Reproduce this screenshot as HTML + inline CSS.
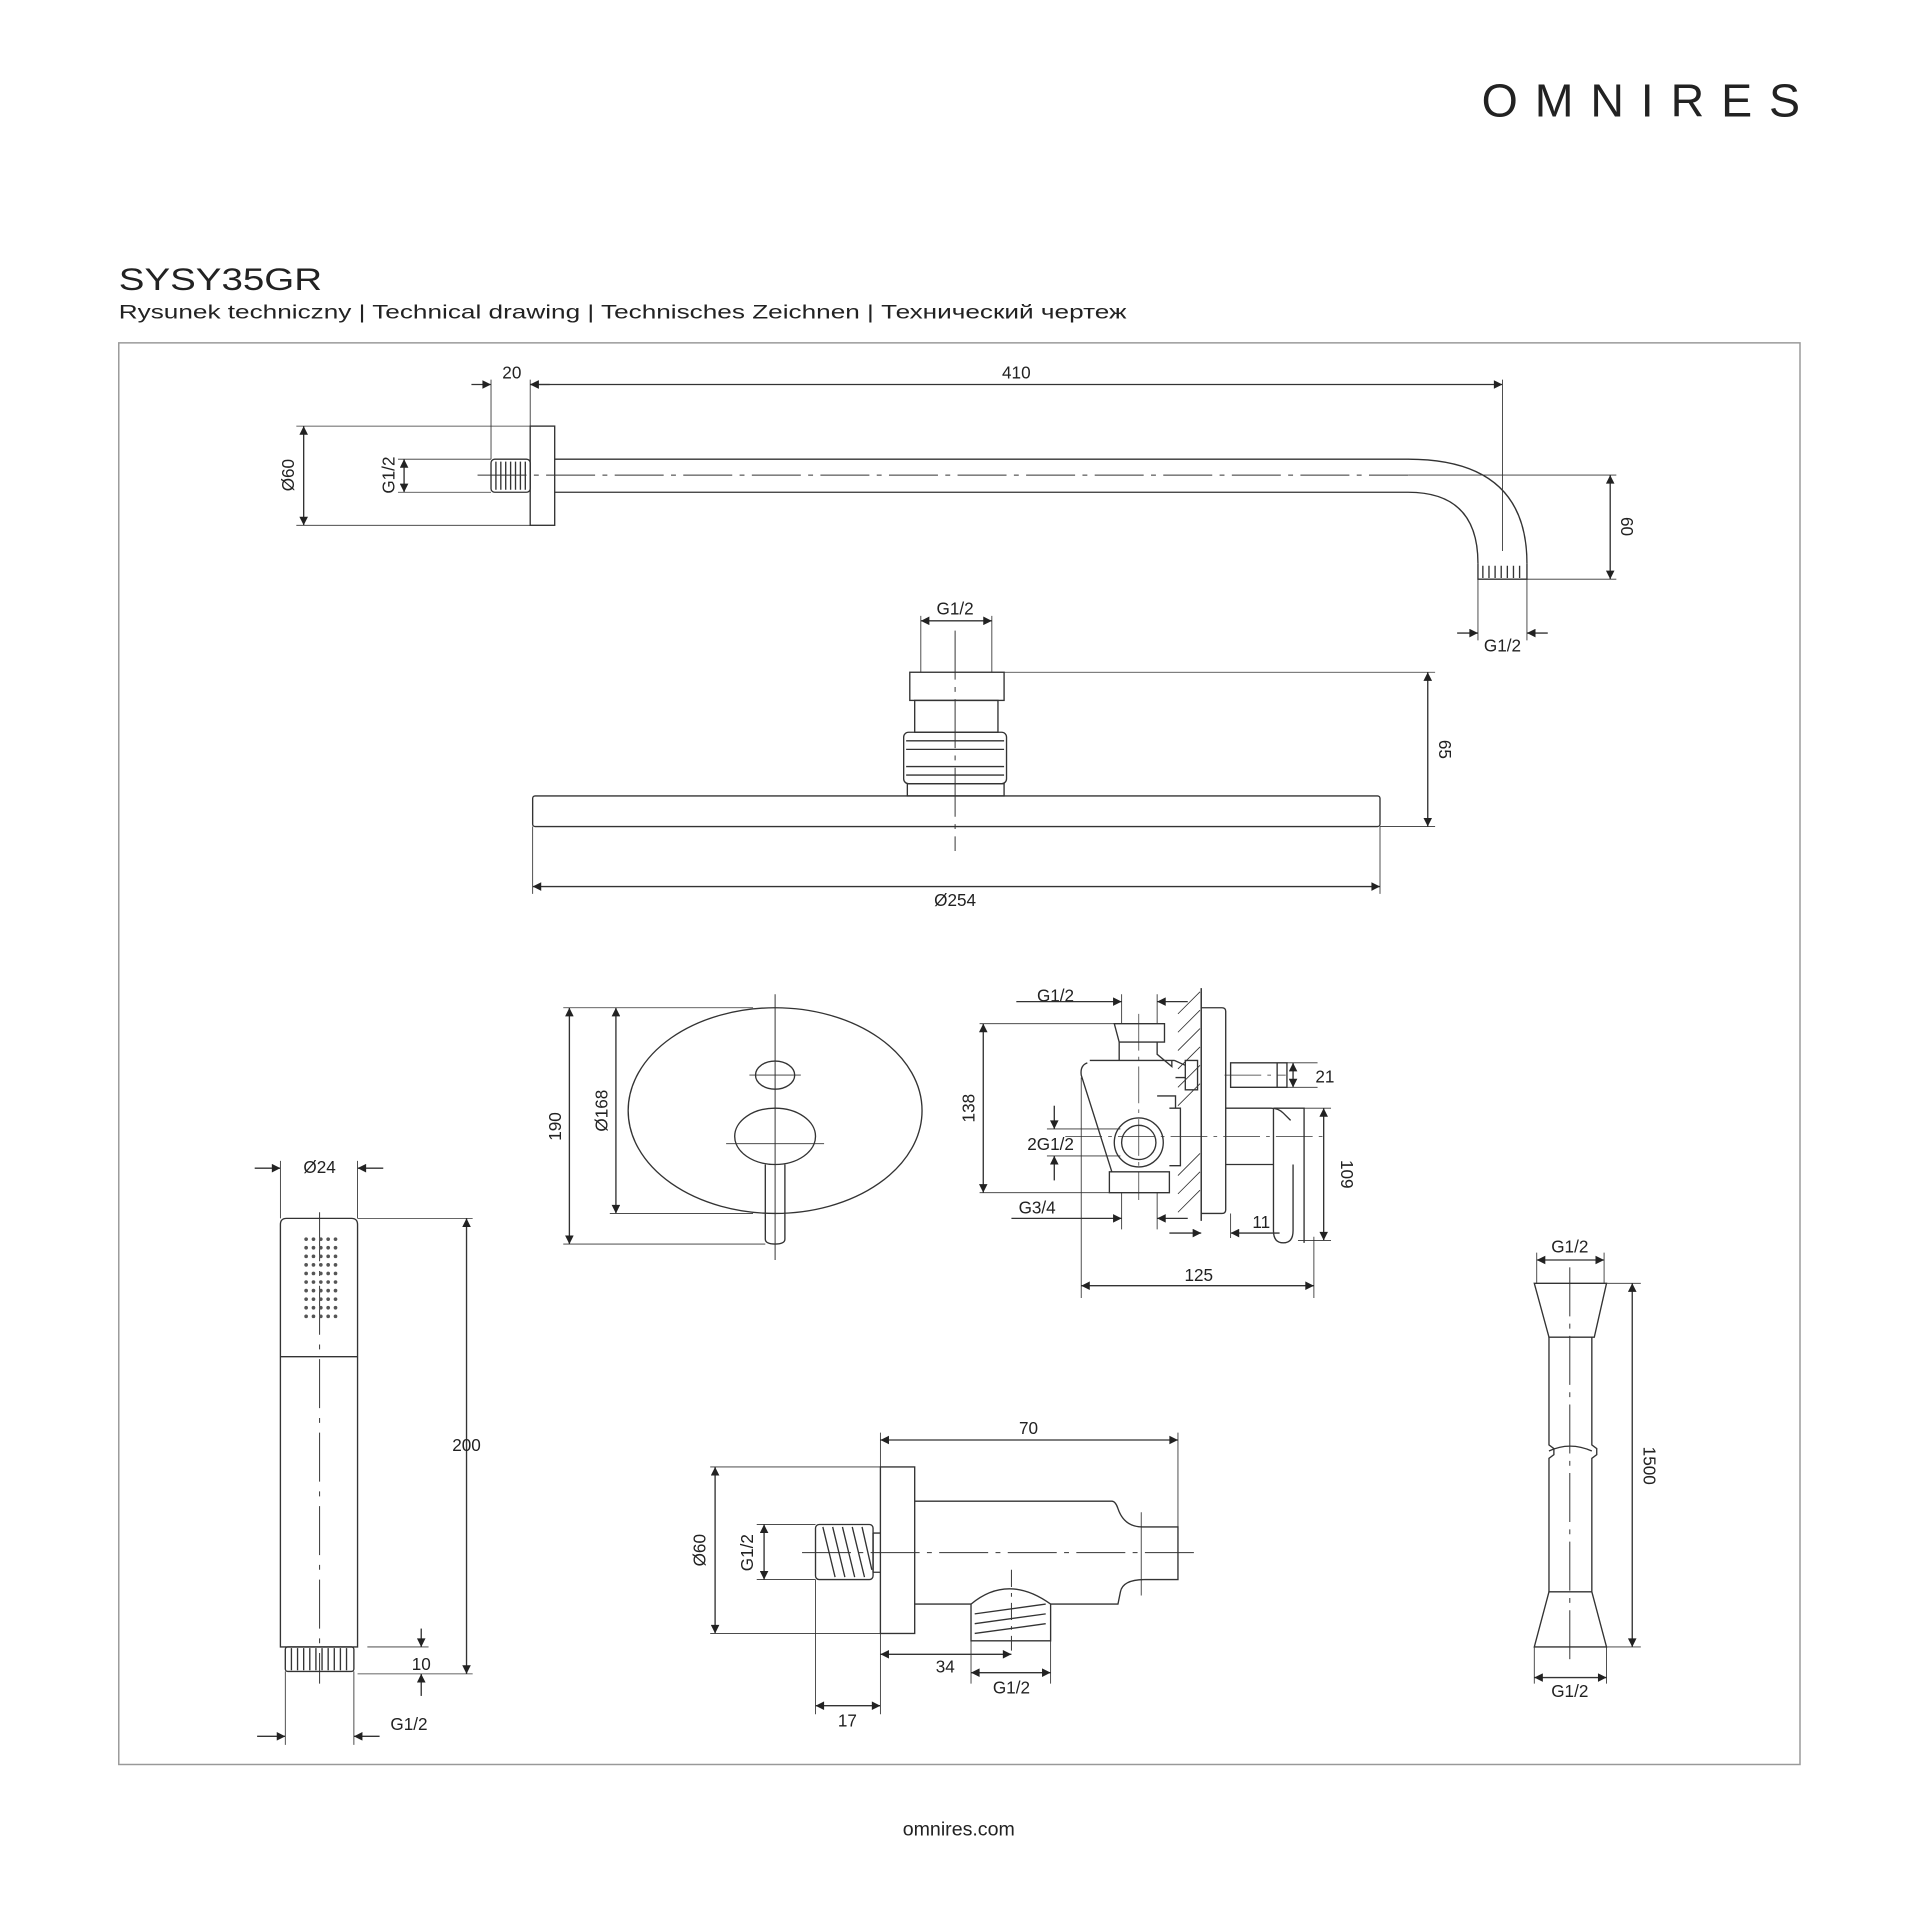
<!DOCTYPE html>
<html><head><meta charset="utf-8"><style>
html,body{margin:0;padding:0;background:#fff}
svg{display:block}
text{font-family:"Liberation Sans","DejaVu Sans",sans-serif;fill:#222}
</style></head><body>
<svg width="1920" height="1920" viewBox="0 0 1568 1568" xmlns="http://www.w3.org/2000/svg">
<defs>
<marker id="a" viewBox="0 0 10 10" refX="10" refY="5" markerWidth="9" markerHeight="7" orient="auto-start-reverse" markerUnits="userSpaceOnUse"><path d="M0,0 L10,5 L0,10 z" fill="#222"/></marker>
</defs>
<text x="1210" y="95" font-size="38" textLength="260" lengthAdjust="spacing">OMNIRES</text>
<text x="97" y="237" font-size="26" textLength="166" lengthAdjust="spacingAndGlyphs">SYSY35GR</text>
<text x="97" y="260" font-size="16" textLength="823" lengthAdjust="spacingAndGlyphs">Rysunek techniczny | Technical drawing | Technisches Zeichnen | Технический чертеж</text>
<rect x="97" y="280" width="1373" height="1161" fill="none" stroke="#999" stroke-width="1.2"/>
<text x="783" y="1499" font-size="16" text-anchor="middle">omnires.com</text>

<g fill="none" stroke="#333" stroke-width="1.1">
<rect x="433" y="348" width="20" height="81"/>
<rect x="401" y="375" width="32" height="27" rx="3"/>
<path d="M405,377v23M409,377v23M413,377v23M417,377v23M421,377v23M425,377v23M429,377v23"/>
<path d="M453,375 H1150 Q1247,375 1247,460 M453,402 H1150 Q1207,402 1207,460"/>
<path d="M1207,460v13h40v-13"/>
<path d="M1211,462v10M1216,462v10M1221,462v10M1226,462v10M1231,462v10M1236,462v10M1241,462v10"/>
<path d="M390,388 H1150" stroke-dasharray="40 6 4 6" stroke-width="0.8"/>
<path d="M401,310v65M433,310v38M1227,310v140" stroke-width="0.7"/>
<line x1="385" y1="314" x2="401" y2="314" marker-end="url(#a)"/>
<line x1="449" y1="314" x2="433" y2="314" marker-end="url(#a)"/>
<line x1="433" y1="314" x2="1227" y2="314" marker-start="url(#a)" marker-end="url(#a)"/>
<path d="M242,348H433M242,429H433M325,375H401M325,402H401" stroke-width="0.7"/>
<line x1="248" y1="348" x2="248" y2="429" marker-start="url(#a)" marker-end="url(#a)"/>
<line x1="330" y1="375" x2="330" y2="402" marker-start="url(#a)" marker-end="url(#a)"/>
<path d="M1150,388H1320M1247,473H1320M1207,473v50M1247,473v50" stroke-width="0.7"/>
<line x1="1315" y1="388" x2="1315" y2="473" marker-start="url(#a)" marker-end="url(#a)"/>
<line x1="1190" y1="517" x2="1207" y2="517" marker-end="url(#a)"/>
<line x1="1264" y1="517" x2="1247" y2="517" marker-end="url(#a)"/>

<rect x="743" y="549" width="77" height="23"/>
<rect x="747" y="572" width="68" height="26"/>
<rect x="738" y="598" width="84" height="42" rx="4"/>
<path d="M740,605H820M740,612H820M740,626H820M740,633H820"/>
<rect x="741" y="640" width="79" height="10"/>
<rect x="435" y="650" width="692" height="25" rx="2"/>
<line x1="780" y1="515" x2="780" y2="695" stroke-dasharray="40 6 4 6" stroke-width="0.8"/>
<path d="M752,503v46M810,503v46M820,549H1172M1127,675H1172M435,675v55M1127,675v55" stroke-width="0.7"/>
<line x1="752" y1="507" x2="810" y2="507" marker-start="url(#a)" marker-end="url(#a)"/>
<line x1="1166" y1="549" x2="1166" y2="675" marker-start="url(#a)" marker-end="url(#a)"/>
<line x1="435" y1="724" x2="1127" y2="724" marker-start="url(#a)" marker-end="url(#a)"/>

<!-- mixer front -->
<ellipse cx="633" cy="907" rx="120" ry="84"/>
<ellipse cx="633" cy="878" rx="16" ry="11.5"/>
<ellipse cx="633" cy="928" rx="33" ry="23"/>
<path d="M625,951V1012q0,4 8,4q8,0 8,-4V951"/>
<line x1="633" y1="812" x2="633" y2="1029" stroke-width="0.8"/>
<path d="M612,878H654M593,934H673" stroke-width="0.7"/>
<path d="M460,823H615M498,991H615M460,1016H625" stroke-width="0.7"/>
<line x1="465" y1="823" x2="465" y2="1016" marker-start="url(#a)" marker-end="url(#a)"/>
<line x1="503" y1="823" x2="503" y2="991" marker-start="url(#a)" marker-end="url(#a)"/>

<!-- mixer side -->
<path d="M981,807V997" stroke-width="1.2"/>
<path d="M962,828l18,-18M962,843l18,-18M962,858l18,-18M962,873l18,-18M962,888l18,-18M962,903l18,-18M962,960l18,-18M962,975l18,-18M962,990l18,-18" stroke-width="0.7"/>
<path d="M981,823h17q3,0 3,3v162q0,3-3,3h-17"/>
<path d="M910,836h41v15h-37zM914,851v15M945,851v10l12,10v-5"/>
<path d="M890,866H959M888,868q-6,2-5,10l25,79M959,866l9,4"/>
<path d="M906,957h49v17h-49z"/>
<path d="M955,905h9v47h-9"/>
<path d="M960,880h8M945,895h15v10"/>
<path d="M968,866h10v24h-10z"/>
<path d="M1005,868h38v20h-38zM1043,868h8v20h-8z"/>
<circle cx="930" cy="933" r="20"/><circle cx="930" cy="933" r="14"/>
<path d="M1001,905H1038q6,0 10,4l6,6M1001,951H1040"/>
<path d="M1040,905h25v110M1040,905v46"/>
<path d="M1040,951V1005q0,10 8,10q8,0 8,-10V951"/>
<path d="M930,828V980M870,928H1085M1000,878H1050" stroke-width="0.6" stroke-dasharray="30 5 3 5"/>
<path d="M916,812v24M945,812v24M800,836H910M800,974H906M855,922H915M855,944H915M916,974v30M945,974v30M883,880V1060M1005,991v20M1073,1010V1060M1051,868h25M1051,888h25M1065,905h22M1060,1013h27" stroke-width="0.7"/>
<line x1="830" y1="818" x2="916" y2="818" marker-end="url(#a)"/>
<line x1="970" y1="818" x2="945" y2="818" marker-end="url(#a)"/>
<line x1="803" y1="836" x2="803" y2="974" marker-start="url(#a)" marker-end="url(#a)"/>
<line x1="861" y1="903" x2="861" y2="922" marker-end="url(#a)"/>
<line x1="861" y1="964" x2="861" y2="944" marker-end="url(#a)"/>
<line x1="1056" y1="868" x2="1056" y2="888" marker-start="url(#a)" marker-end="url(#a)"/>
<line x1="826" y1="995" x2="916" y2="995" marker-end="url(#a)"/>
<line x1="970" y1="995" x2="945" y2="995" marker-end="url(#a)"/>
<line x1="955" y1="1007" x2="981" y2="1007" marker-end="url(#a)"/>
<line x1="1045" y1="1007" x2="1005" y2="1007" marker-end="url(#a)"/>
<line x1="1081" y1="905" x2="1081" y2="1013" marker-start="url(#a)" marker-end="url(#a)"/>
<line x1="883" y1="1050" x2="1073" y2="1050" marker-start="url(#a)" marker-end="url(#a)"/>

<path d="M229,1345V1000q0-5 5-5h53q5,0 5,5V1345z"/>
<path d="M229,1108H292"/>
<rect x="233" y="1345" width="56" height="20" rx="2"/>
<path d="M238,1346v18M243,1346v18M248,1346v18M253,1346v18M258,1346v18M263,1346v18M268,1346v18M273,1346v18M278,1346v18M283,1346v18"/>
<line x1="261" y1="990" x2="261" y2="1375" stroke-dasharray="40 8 4 8" stroke-width="0.8"/>
<path d="M229,948v47M292,948v47M292,995H386M292,1367H386M233,1365v60M289,1365v60M300,1345H350" stroke-width="0.7"/>
<line x1="208" y1="954" x2="229" y2="954" marker-end="url(#a)"/>
<line x1="313" y1="954" x2="292" y2="954" marker-end="url(#a)"/>
<line x1="381" y1="995" x2="381" y2="1367" marker-start="url(#a)" marker-end="url(#a)"/>
<line x1="344" y1="1330" x2="344" y2="1345" marker-end="url(#a)"/>
<line x1="344" y1="1385" x2="344" y2="1367" marker-end="url(#a)"/>
<line x1="210" y1="1418" x2="233" y2="1418" marker-end="url(#a)"/>
<line x1="310" y1="1418" x2="289" y2="1418" marker-end="url(#a)"/>

<rect x="719" y="1198" width="28" height="136"/>
<rect x="666" y="1245" width="47" height="45" rx="3"/>
<path d="M713,1252h6M713,1284h6M713,1252v32"/>
<path d="M672,1247l10,41M680,1247l10,41M688,1247l10,41M696,1247l10,41M704,1247l8,35"/>
<path d="M747,1226H908q3,0 5,6q5,15 20,15H962V1290H935q-18,0-20,10l-2,10H858"/>
<path d="M747,1310H793"/>
<path d="M793,1310q30-25 65,0v30H793z"/>
<path d="M796,1318l58,-8M796,1326l58,-8M796,1334l58,-8"/>
<line x1="655" y1="1268" x2="975" y2="1268" stroke-dasharray="40 6 4 6" stroke-width="0.8"/>
<line x1="826" y1="1282" x2="826" y2="1348" stroke-dasharray="14 5 3 5" stroke-width="0.8"/>
<path d="M932,1235v68M719,1170v28M719,1334v66M962,1170v78M580,1198H719M580,1334H719M618,1245H666M618,1290H666M666,1290v110M793,1340v35M858,1340v35" stroke-width="0.7"/>
<line x1="719" y1="1176" x2="962" y2="1176" marker-start="url(#a)" marker-end="url(#a)"/>
<line x1="584" y1="1198" x2="584" y2="1334" marker-start="url(#a)" marker-end="url(#a)"/>
<line x1="624" y1="1245" x2="624" y2="1290" marker-start="url(#a)" marker-end="url(#a)"/>
<line x1="719" y1="1351" x2="826" y2="1351" marker-start="url(#a)" marker-end="url(#a)"/>
<line x1="793" y1="1366" x2="858" y2="1366" marker-start="url(#a)" marker-end="url(#a)"/>
<line x1="666" y1="1393" x2="719" y2="1393" marker-start="url(#a)" marker-end="url(#a)"/>

<path d="M1253,1048h59l-10,44h-37z"/>
<path d="M1265,1092V1180l4,3v5l-4,3V1300M1300,1092V1180l4,3v5l-4,3V1300"/>
<path d="M1265,1185q17,-8 35,0"/>
<path d="M1265,1300h35l12,45h-59z"/>
<line x1="1282" y1="1035" x2="1282" y2="1360" stroke-dasharray="40 6 4 6" stroke-width="0.8"/>
<path d="M1255,1023v25M1310,1023v25M1312,1048H1340M1312,1345H1340M1253,1345v30M1312,1345v30" stroke-width="0.7"/>
<line x1="1255" y1="1029" x2="1310" y2="1029" marker-start="url(#a)" marker-end="url(#a)"/>
<line x1="1333" y1="1048" x2="1333" y2="1345" marker-start="url(#a)" marker-end="url(#a)"/>
<line x1="1253" y1="1370" x2="1312" y2="1370" marker-start="url(#a)" marker-end="url(#a)"/>
</g>

<g fill="#555">
<circle cx="250" cy="1012" r="1.5"/><circle cx="256" cy="1012" r="1.5"/><circle cx="262" cy="1012" r="1.5"/><circle cx="268" cy="1012" r="1.5"/><circle cx="274" cy="1012" r="1.5"/>
<circle cx="250" cy="1019" r="1.5"/><circle cx="256" cy="1019" r="1.5"/><circle cx="262" cy="1019" r="1.5"/><circle cx="268" cy="1019" r="1.5"/><circle cx="274" cy="1019" r="1.5"/>
<circle cx="250" cy="1026" r="1.5"/><circle cx="256" cy="1026" r="1.5"/><circle cx="262" cy="1026" r="1.5"/><circle cx="268" cy="1026" r="1.5"/><circle cx="274" cy="1026" r="1.5"/>
<circle cx="250" cy="1033" r="1.5"/><circle cx="256" cy="1033" r="1.5"/><circle cx="262" cy="1033" r="1.5"/><circle cx="268" cy="1033" r="1.5"/><circle cx="274" cy="1033" r="1.5"/>
<circle cx="250" cy="1040" r="1.5"/><circle cx="256" cy="1040" r="1.5"/><circle cx="262" cy="1040" r="1.5"/><circle cx="268" cy="1040" r="1.5"/><circle cx="274" cy="1040" r="1.5"/>
<circle cx="250" cy="1047" r="1.5"/><circle cx="256" cy="1047" r="1.5"/><circle cx="262" cy="1047" r="1.5"/><circle cx="268" cy="1047" r="1.5"/><circle cx="274" cy="1047" r="1.5"/>
<circle cx="250" cy="1054" r="1.5"/><circle cx="256" cy="1054" r="1.5"/><circle cx="262" cy="1054" r="1.5"/><circle cx="268" cy="1054" r="1.5"/><circle cx="274" cy="1054" r="1.5"/>
<circle cx="250" cy="1061" r="1.5"/><circle cx="256" cy="1061" r="1.5"/><circle cx="262" cy="1061" r="1.5"/><circle cx="268" cy="1061" r="1.5"/><circle cx="274" cy="1061" r="1.5"/>
<circle cx="250" cy="1068" r="1.5"/><circle cx="256" cy="1068" r="1.5"/><circle cx="262" cy="1068" r="1.5"/><circle cx="268" cy="1068" r="1.5"/><circle cx="274" cy="1068" r="1.5"/>
<circle cx="250" cy="1075" r="1.5"/><circle cx="256" cy="1075" r="1.5"/><circle cx="262" cy="1075" r="1.5"/><circle cx="268" cy="1075" r="1.5"/><circle cx="274" cy="1075" r="1.5"/>
</g>

<g font-size="14">
<text x="418" y="309" text-anchor="middle">20</text>
<text x="830" y="309" text-anchor="middle">410</text>
<text transform="translate(240,388) rotate(-90)" text-anchor="middle">Ø60</text>
<text transform="translate(322,388) rotate(-90)" text-anchor="middle">G1/2</text>
<text transform="translate(1324,430) rotate(90)" text-anchor="middle">60</text>
<text x="1227" y="532" text-anchor="middle">G1/2</text>
<text x="780" y="502" text-anchor="middle">G1/2</text>
<text transform="translate(1175,612) rotate(90)" text-anchor="middle">65</text>
<text x="780" y="740" text-anchor="middle">Ø254</text>
<text transform="translate(458,920) rotate(-90)" text-anchor="middle">190</text>
<text transform="translate(496,907) rotate(-90)" text-anchor="middle">Ø168</text>
<text x="862" y="818" text-anchor="middle">G1/2</text>
<text transform="translate(796,905) rotate(-90)" text-anchor="middle">138</text>
<text x="858" y="939" text-anchor="middle">2G1/2</text>
<text x="1082" y="884" text-anchor="middle">21</text>
<text transform="translate(1095,959) rotate(90)" text-anchor="middle">109</text>
<text x="847" y="991" text-anchor="middle">G3/4</text>
<text x="1030" y="1003" text-anchor="middle">11</text>
<text x="979" y="1046" text-anchor="middle">125</text>
<text x="261" y="958" text-anchor="middle">Ø24</text>
<text x="381" y="1185" text-anchor="middle">200</text>
<text x="344" y="1364" text-anchor="middle">10</text>
<text x="334" y="1413" text-anchor="middle">G1/2</text>
<text x="840" y="1171" text-anchor="middle">70</text>
<text transform="translate(576,1266) rotate(-90)" text-anchor="middle">Ø60</text>
<text transform="translate(615,1268) rotate(-90)" text-anchor="middle">G1/2</text>
<text x="772" y="1366" text-anchor="middle">34</text>
<text x="826" y="1383" text-anchor="middle">G1/2</text>
<text x="692" y="1410" text-anchor="middle">17</text>
<text x="1282" y="1023" text-anchor="middle">G1/2</text>
<text transform="translate(1342,1197) rotate(90)" text-anchor="middle">1500</text>
<text x="1282" y="1386" text-anchor="middle">G1/2</text>
</g>
</svg>
</body></html>
